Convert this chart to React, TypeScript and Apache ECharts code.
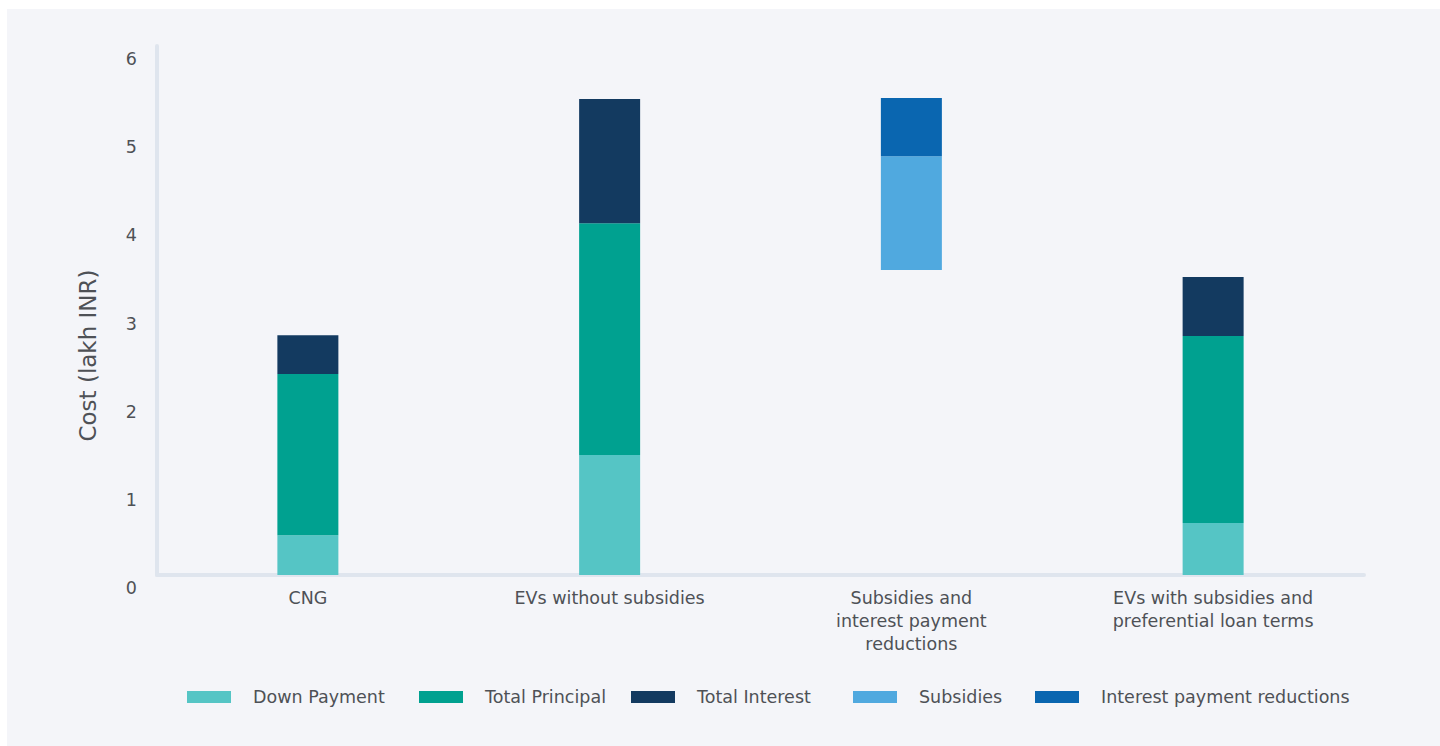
import React, { useEffect, useRef } from "react";
import * as echarts from "echarts";

const categories = [
  "CNG",
  "EVs without subsidies",
  "Subsidies and\ninterest payment\nreductions",
  "EVs with subsidies and\npreferential loan terms",
];
const yTicks = [0, 1, 2, 3, 4, 5, 6];
const floatBase = [0, 0, 3.46, 0];
const downPayment = [0.45, 1.36, 0, 0.59];
const totalPrincipal = [1.83, 2.63, 0, 2.12];
const totalInterest = [0.44, 1.41, 0, 0.67];
const subsidies = [0, 0, 1.29, 0];
const interestReductions = [0, 0, 0.66, 0];

const seriesNames = [
  "Down Payment",
  "Total Principal",
  "Total Interest",
  "Subsidies",
  "Interest payment reductions",
];
const seriesColors = ["#55c5c5", "#00a190", "#133a60", "#50a9df", "#0a66b0"];
const legendLefts = [175, 407, 619, 841, 1023];

const FONT = "'DejaVu Sans', sans-serif";
const TEXT = "#4e5156";

export default function App() {
  const ref = useRef<HTMLDivElement>(null);
  useEffect(() => {
    if (!ref.current) return;
    const chart = echarts.init(ref.current, undefined, { renderer: "svg" });
    const values = [downPayment, totalPrincipal, totalInterest, subsidies, interestReductions];
    const toData = (arr: number[]) => arr.map((v) => (v === 0 ? "-" : v));
    chart.setOption({
      animation: false,
      backgroundColor: "#f4f5f9",
      textStyle: { fontFamily: FONT },
      grid: { left: 150, right: 76, top: 37, bottom: 171, containLabel: false },
      legend: seriesNames.map((n, i) => ({
        data: [n],
        left: legendLefts[i],
        top: 674,
        itemWidth: 44,
        itemHeight: 12,
        icon: "rect",
        selectedMode: false,
        textStyle: { color: TEXT, fontSize: 17.5, fontFamily: FONT, padding: [0, 0, 0, 17] },
      })),
      xAxis: {
        type: "category",
        data: categories,
        axisLine: { show: true, lineStyle: { color: "#dfe5ee", width: 4 } },
        axisTick: { show: false },
        axisLabel: {
          color: TEXT,
          fontSize: 17.5,
          lineHeight: 23,
          margin: 11,
          interval: 0,
          fontFamily: FONT,
        },
      },
      yAxis: {
        type: "value",
        min: 0,
        max: 6,
        interval: 1,
        name: "Cost (lakh INR)",
        nameLocation: "middle",
        nameRotate: 90,
        nameGap: 58,
        nameTextStyle: { color: TEXT, fontSize: 23, fontFamily: FONT, padding: [0, 90, 0, 0] },
        axisLine: { show: true, lineStyle: { color: "#dfe5ee", width: 4 } },
        axisTick: { show: false },
        splitLine: { show: false },
        axisLabel: {
          color: TEXT,
          fontSize: 17.5,
          margin: 20,
          verticalAlign: "top",
          lineHeight: 18,
          padding: [4, 0, 0, 0],
          fontFamily: FONT,
          formatter: (v: number) => (yTicks.includes(v) ? String(v) : ""),
        },
      },
      series: [
        {
          name: "base",
          type: "bar",
          stack: "total",
          barWidth: 61,
          data: toData(floatBase),
          itemStyle: { color: "rgba(0,0,0,0)" },
          emphasis: { disabled: true },
          silent: true,
        },
        ...seriesNames.map((n, i) => ({
          name: n,
          type: "bar",
          stack: "total",
          barWidth: 61,
          data: toData(values[i]),
          itemStyle: { color: seriesColors[i] },
        })),
      ],
    });
    return () => chart.dispose();
  }, []);
  return (
    <div
      ref={ref}
      style={{ position: "absolute", left: 7, top: 9, width: 1433, height: 737 }}
    />
  );
}
